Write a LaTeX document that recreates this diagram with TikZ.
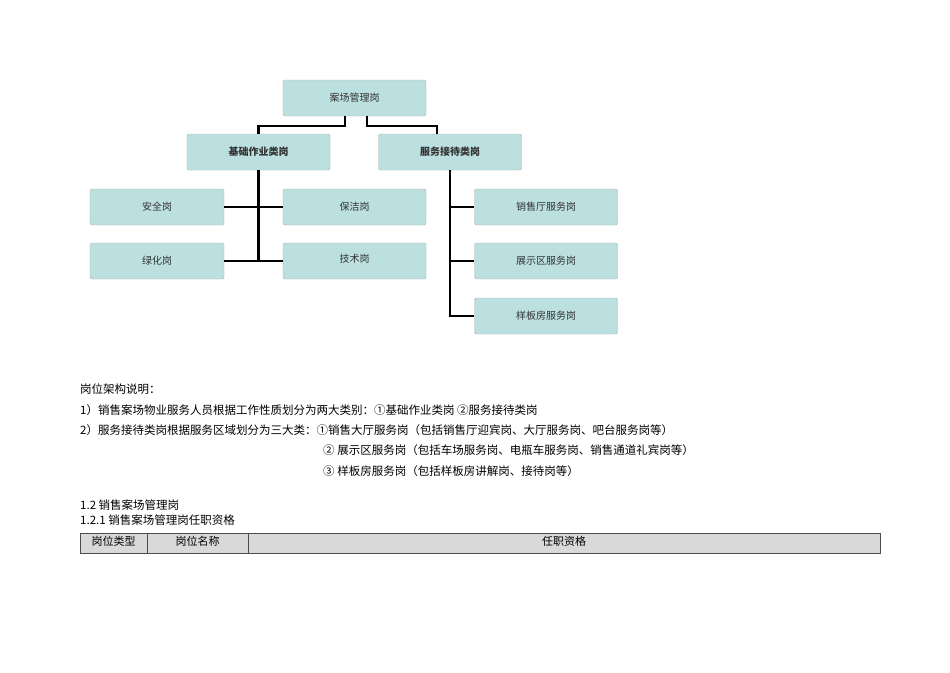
\documentclass[tikz,border=0pt]{standalone}
\usepackage{fontspec}
\newfontfamily\cjk{Noto Sans CJK SC}
\begin{document}
\begin{tikzpicture}[x=1pt,y=-1pt,
  box/.style={draw=gray!60,fill=boxc,rounded corners=1.5pt,minimum width=143pt,minimum height=36pt,inner sep=0pt,font=\cjk\fontsize{10}{11}\selectfont,text=black!80},
  con/.style={line width=2.2pt,black},
  txt/.style={anchor=west,inner sep=0pt,font=\cjk\fontsize{11.5}{12}\selectfont}]
\definecolor{boxc}{HTML}{BCE0E0}
\useasboundingbox (0,0) rectangle (950,672);
\node[box] (top) at (354.5,98) {案场管理岗};
\node[box,font=\cjk\bfseries\fontsize{10}{11}\selectfont] (jc) at (258.5,152) {基础作业类岗};
\node[box,font=\cjk\bfseries\fontsize{10}{11}\selectfont] (fw) at (450,152) {服务接待类岗};
\node[box,minimum width=134pt] (aq) at (157,207) {安全岗};
\node[box] (bj) at (354.5,207) {保洁岗};
\node[box,minimum width=134pt] (lh) at (157,261) {绿化岗};
\node[box] (js) at (354.5,261) {\raisebox{5pt}{技术岗}};
\node[box] (r1) at (546,207) {销售厅服务岗};
\node[box] (r2) at (546,261) {展示区服务岗};
\node[box] (r3) at (546,316) {样板房服务岗};
\coordinate (tl) at (345,116); \coordinate (tr) at (367,116);
\draw[con] (tl) -- ++(0,10) -| (jc.north);
\draw[con] (tr) -- ++(0,10) -| (437,134);
\draw[con] (jc.south) -- (258.5,261);
\draw[con] (aq.east) -- (bj.west);
\draw[con] (lh.east) -- (js.west);
\draw[con] (fw.south) -- (450,316) -- (r3.west);
\draw[con] (450,207) -- (r1.west);
\draw[con] (450,261) -- (r2.west);
\node[txt] (t0) at (80,389) {岗位架构说明：};
\node[txt] (t1) at (80,410) {1）销售案场物业服务人员根据工作性质划分为两大类别：①基础作业类岗 ②服务接待类岗};
\node[txt] (t2) at (80,430) {2）服务接待类岗根据服务区域划分为三大类：①销售大厅服务岗（包括销售厅迎宾岗、大厅服务岗、吧台服务岗等）};
\node[txt] (t3) at (323,450) {② 展示区服务岗（包括车场服务岗、电瓶车服务岗、销售通道礼宾岗等）};
\node[txt] (t4) at (323,471) {③ 样板房服务岗（包括样板房讲解岗、接待岗等）};
\node[txt] (t5) at (80,505) {1.2 销售案场管理岗};
\node[txt] (t6) at (80,520) {1.2.1 销售案场管理岗任职资格};
\draw[fill=gray!30,draw=black!70] (80,533) rectangle (880,553);
\draw[black!70] (147,533) -- (147,553) (248,533) -- (248,553);
\node[font=\cjk\fontsize{11}{12}\selectfont] (h1) at (113.5,541) {岗位类型};
\node[font=\cjk\fontsize{11}{12}\selectfont] (h2) at (197.5,541) {岗位名称};
\node[font=\cjk\fontsize{11}{12}\selectfont] (h3) at (564,541) {任职资格};
\end{tikzpicture}
\end{document}
